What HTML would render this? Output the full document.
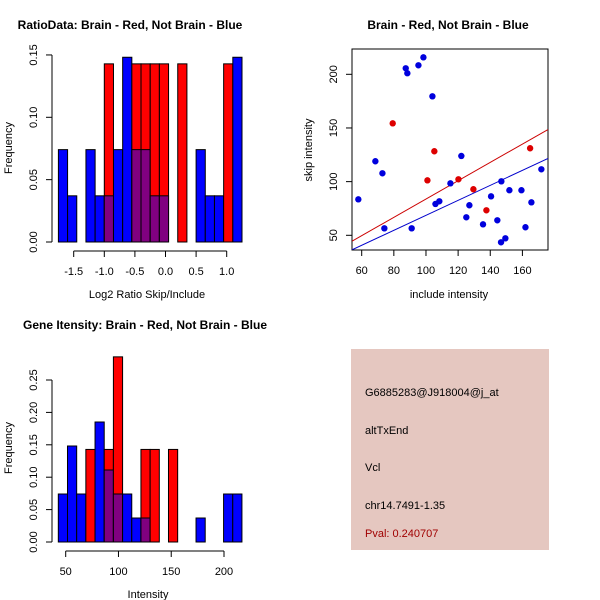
<!DOCTYPE html>
<html><head><meta charset="utf-8"><style>
body{margin:0;background:#fff}
svg{display:block;font-family:"Liberation Sans",sans-serif}
</style></head><body>
<svg id="chart" width="600" height="600" viewBox="0 0 600 600" xmlns="http://www.w3.org/2000/svg">
<rect width="600" height="600" fill="#fff"/>
<g id="p1"></g>
<g id="p2"></g>
<g id="p3"></g>
<g>
<rect x="351" y="349" width="198" height="201" fill="#e5c7c0"/>
<text x="365" y="396" font-size="11">G6885283@J918004@j_at</text>
<text x="365" y="434" font-size="11">altTxEnd</text>
<text x="365" y="471" font-size="11">Vcl</text>
<text x="365" y="509" font-size="11">chr14.7491-1.35</text>
<text x="365" y="537" font-size="11" fill="#a00000">Pval: 0.240707</text>
</g>
</svg>
<script>
// Ratio histogram data
const ratioBinStart = -1.75;
const ratioBinWidth = 0.15;
const ratioBlueCounts = [2,1,0,2,1,1,2,4,2,2,1,1,0,0,0,2,1,1,0,4];
const ratioRedCounts  = [0,0,0,0,0,1,0,0,1,1,1,1,0,1,0,0,0,0,1,0];
const ratioBlueTotal = 27;
const ratioRedTotal = 7;
const ratioXTicks = [-1.5,-1.0,-0.5,0.0,0.5,1.0];
const ratioXTickLabels = ["-1.5","-1.0","-0.5","0.0","0.5","1.0"];
const ratioYTicks = [0,0.05,0.10,0.15];
const ratioYTickLabels = ["0.00","0.05","0.10","0.15"];

// Scatter data
const blueInclude = [57.9,87.4,88.4,95.3,98.4,104,68.5,72.9,74.1,91.1,105.9,108.3,115.2,122,125.1,127,135.5,140.5,144.4,146.9,146.7,149.4,151.9,159.4,161.9,165.6,171.8];
const blueSkip    = [83.5,205.6,201,208.4,215.8,179.5,119,107.8,56.5,56.5,79.2,81.7,98.4,123.9,66.8,78,60.2,86.3,64,100.3,43.5,47.2,92,92,57.5,80.7,111.5];
const redInclude = [79.3,100.9,105.2,120.2,129.5,137.6,164.8];
const redSkip    = [154.3,101.2,128.3,102.2,92.9,73.3,131.1];
const fitIntercepts = [-1.5,-1.2]; // red, blue
const fitSlopes = [0.853,0.698];
const scatterXTicks = [60,80,100,120,140,160];
const scatterYTicks = [50,100,150,200];

// Gene intensity histogram data
const geneBinStart = 43;
const geneBinWidth = 8.7;
const geneBlueCounts = [2,4,2,0,5,3,2,2,1,1,0,0,0,0,0,1,0,0,2,2];
const geneRedCounts  = [0,0,0,1,0,1,2,0,0,1,1,0,1,0,0,0,0,0,0,0];
const geneBlueTotal = 27;
const geneRedTotal = 7;
const geneXTicks = [50,100,150,200];
const geneYTicks = [0,0.05,0.10,0.15,0.20,0.25];
const geneYTickLabels = ["0.00","0.05","0.10","0.15","0.20","0.25"];

const NS="http://www.w3.org/2000/svg";
function mk(parent,tag,attrs,text){const e=document.createElementNS(NS,tag);for(const k in attrs)e.setAttribute(k,attrs[k]);if(text!==undefined)e.textContent=text;parent.appendChild(e);return e;}

function histogram(g,cfg){
  const sx=v=>cfg.x0px+(v-cfg.x0v)*cfg.xs;
  const sy=v=>cfg.y0px-v*cfg.ys;
  const n=cfg.blue.length;
  for(let i=0;i<n;i++){
    const a=cfg.start+i*cfg.width,b=a+cfg.width;
    const fb=cfg.blue[i]/cfg.bt, fr=cfg.red[i]/cfg.rt;
    const x=sx(a), w=sx(b)-sx(a);
    const hi=Math.max(fb,fr), lo=Math.min(fb,fr);
    if(hi>0){
      const r=mk(g,'rect',{x:x,y:sy(hi),width:w,height:sy(0)-sy(hi),fill:fr>=fb?'#ff0000':'#0000ff',stroke:'#000','stroke-width':1});
      
      
    }
    if(lo>0){
      const r=mk(g,'rect',{x:x,y:sy(lo),width:w,height:sy(0)-sy(lo),fill:'#800080',stroke:'#000','stroke-width':1});
      
      
    }
  }
  const ya=mk(g,'line',{x1:cfg.yaxisX,x2:cfg.yaxisX,y1:sy(cfg.yt[0]),y2:sy(cfg.yt[cfg.yt.length-1]),stroke:'#000'});
  
  cfg.yt.forEach((v,i)=>{
    mk(g,'line',{x1:cfg.yaxisX-6,x2:cfg.yaxisX,y1:sy(v),y2:sy(v),stroke:'#000'});
    const tx=cfg.yaxisX-15;
    const t=mk(g,'text',{x:tx,y:sy(v),'font-size':11,'text-anchor':'middle',transform:`rotate(-90 ${tx} ${sy(v)})`},cfg.ytl[i]);
    
  });
  const xa=mk(g,'line',{x1:sx(cfg.xt[0]),x2:sx(cfg.xt[cfg.xt.length-1]),y1:cfg.xaxisY,y2:cfg.xaxisY,stroke:'#000'});
  
  cfg.xt.forEach((v,i)=>{
    mk(g,'line',{x1:sx(v),x2:sx(v),y1:cfg.xaxisY,y2:cfg.xaxisY+6,stroke:'#000'});
    const t=mk(g,'text',{x:sx(v),y:cfg.xaxisY+24,'font-size':11,'text-anchor':'middle'},cfg.xtl[i]);
    
  });
  const tt=mk(g,'text',{x:cfg.titleX,y:cfg.titleY,'font-size':12,'font-weight':'bold','text-anchor':'middle'},cfg.title);
  
  const xl=mk(g,'text',{x:cfg.xlabX,y:cfg.xlabY,'font-size':11,'text-anchor':'middle'},cfg.xlab);
  
  const yl=mk(g,'text',{x:12,y:cfg.ylabY,'font-size':11,'text-anchor':'middle',transform:`rotate(-90 12 ${cfg.ylabY})`},'Frequency');
  
}

histogram(document.getElementById('p1'),{
  start:ratioBinStart,width:ratioBinWidth,blue:ratioBlueCounts,red:ratioRedCounts,bt:ratioBlueTotal,rt:ratioRedTotal,
  x0v:-1.5,x0px:73.7,xs:61.2,y0px:242,ys:1247,
  xt:ratioXTicks,xtl:ratioXTickLabels,yt:ratioYTicks,ytl:ratioYTickLabels,
  yaxisX:52,xaxisY:251,title:'RatioData: Brain - Red, Not Brain - Blue',titleX:130,titleY:29,
  xlab:'Log2 Ratio Skip/Include',xlabX:147,xlabY:298,ylabY:148
});
histogram(document.getElementById('p3'),{
  start:geneBinStart,width:geneBinWidth,blue:geneBlueCounts,red:geneRedCounts,bt:geneBlueTotal,rt:geneRedTotal,
  x0v:50,x0px:65.7,xs:1.0553,y0px:542,ys:648,
  xt:geneXTicks,xtl:geneXTicks.map(String),yt:geneYTicks,ytl:geneYTickLabels,
  yaxisX:52,xaxisY:551,title:'Gene Itensity: Brain - Red, Not Brain - Blue',titleX:145,titleY:329,
  xlab:'Intensity',xlabX:148,xlabY:598,ylabY:448
});

(function(){
  const g=document.getElementById('p2');
  const sx=v=>361.7+(v-60)*1.607;
  const sy=v=>235.3-(v-50)*1.0733;
  const L=352,R=548,T=49,B=250;
  const cp=mk(g,'clipPath',{id:'sc'});mk(cp,'rect',{x:L,y:T,width:R-L,height:B-T});
  const box=mk(g,'rect',{x:L,y:T,width:R-L,height:B-T,fill:'none',stroke:'#000'});
  
  const cols=['#cc0000','#0000cc'];
  const xmin=(L-361.7)/1.607+60,xmax=(R-361.7)/1.607+60;
  for(let k=0;k<2;k++){
    const l=mk(g,'line',{x1:sx(xmin),y1:sy(fitIntercepts[k]+fitSlopes[k]*xmin),x2:sx(xmax),y2:sy(fitIntercepts[k]+fitSlopes[k]*xmax),stroke:cols[k],'stroke-width':1,'clip-path':'url(#sc)'});
    
    
  }
  blueInclude.forEach((v,i)=>{
    const c=mk(g,'circle',{cx:sx(v),cy:sy(blueSkip[i]),r:3.2,fill:'#0000dd'});
    
    
  });
  redInclude.forEach((v,i)=>{
    const c=mk(g,'circle',{cx:sx(v),cy:sy(redSkip[i]),r:3.2,fill:'#dd0000'});
    
    
  });
  scatterXTicks.forEach(v=>{
    mk(g,'line',{x1:sx(v),x2:sx(v),y1:B,y2:B+6,stroke:'#000'});
    const t=mk(g,'text',{x:sx(v),y:B+24,'font-size':11,'text-anchor':'middle'},String(v));
    
  });
  scatterYTicks.forEach(v=>{
    mk(g,'line',{x1:L-6,x2:L,y1:sy(v),y2:sy(v),stroke:'#000'});
    const tx=L-15;
    const t=mk(g,'text',{x:tx,y:sy(v),'font-size':11,'text-anchor':'middle',transform:`rotate(-90 ${tx} ${sy(v)})`},String(v));
    
  });
  const tt=mk(g,'text',{x:448,y:29,'font-size':12,'font-weight':'bold','text-anchor':'middle'},'Brain - Red, Not Brain - Blue');
  
  const xl=mk(g,'text',{x:449,y:298,'font-size':11,'text-anchor':'middle'},'include intensity');
  
  const yl=mk(g,'text',{x:312,y:150,'font-size':11,'text-anchor':'middle',transform:'rotate(-90 312 150)'},'skip intensity');
  
})();
</script>
</body></html>
